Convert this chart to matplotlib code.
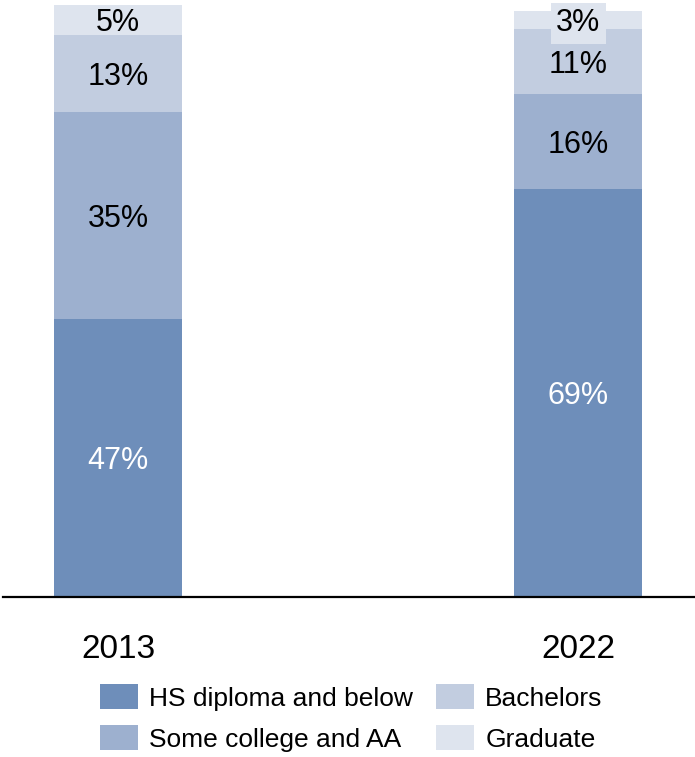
import matplotlib
matplotlib.use("Agg")
import matplotlib.pyplot as plt
import numpy as np

plt.rcParams['font.family'] = ['Liberation Sans', 'DejaVu Sans']

years = ["2013", "2022"]
categories = ["HS diploma and below", "Some college and AA", "Bachelors", "Graduate"]
hs_below = [47, 69]
some_college = [35, 16]
bachelors = [13, 11]
graduate = [5, 3]
series = [hs_below, some_college, bachelors, graduate]
colors = ["#6E8EBA", "#9DB0CF", "#C2CDE0", "#DEE4EE"]
text_colors = ["white", "black", "black", "black"]

fig = plt.figure(figsize=(6.95, 7.57), dpi=100)
ax = fig.add_axes([3 / 695, 1 - 597 / 757, 692 / 695, (597 - 5) / 757])

x = np.arange(len(years))
width = 0.278
bottom = np.zeros(len(years))
handles = []
for vals, col, tcol, name in zip(series, colors, text_colors, categories):
    vals = np.array(vals, dtype=float)
    bars = ax.bar(x, vals, width, bottom=bottom, color=col, label=name)
    handles.append(bars)
    for xi, v, b in zip(x, vals, bottom):
        kw = {}
        if v < 4:
            kw["bbox"] = dict(boxstyle="square,pad=0.18", facecolor=col, edgecolor="none")
        ax.text(xi, b + v / 2, f"{int(v)}%", ha="center", va="center_baseline",
                color=tcol, fontsize=22, **kw)
    bottom += vals

ax.set_xlim(-0.25, 1.254)
ax.set_ylim(0, 100)
ax.set_xticks(x)
ax.set_xticklabels(years, fontsize=24)
ax.tick_params(axis="x", length=0, pad=27)
ax.set_yticks([])
for s in ["top", "right", "left"]:
    ax.spines[s].set_visible(False)
ax.spines["bottom"].set_linewidth(1.6)
ax.spines["bottom"].set_color("black")

fig.legend(handles=handles, labels=categories, ncol=2, frameon=False,
           fontsize=19, loc="center", bbox_to_anchor=(351.5 / 695, 1 - 718 / 757),
           handlelength=1.44, handleheight=1.06, handletextpad=0.42,
           columnspacing=0.87, labelspacing=0.55, borderpad=0)

fig.savefig("out.png", dpi=100)
